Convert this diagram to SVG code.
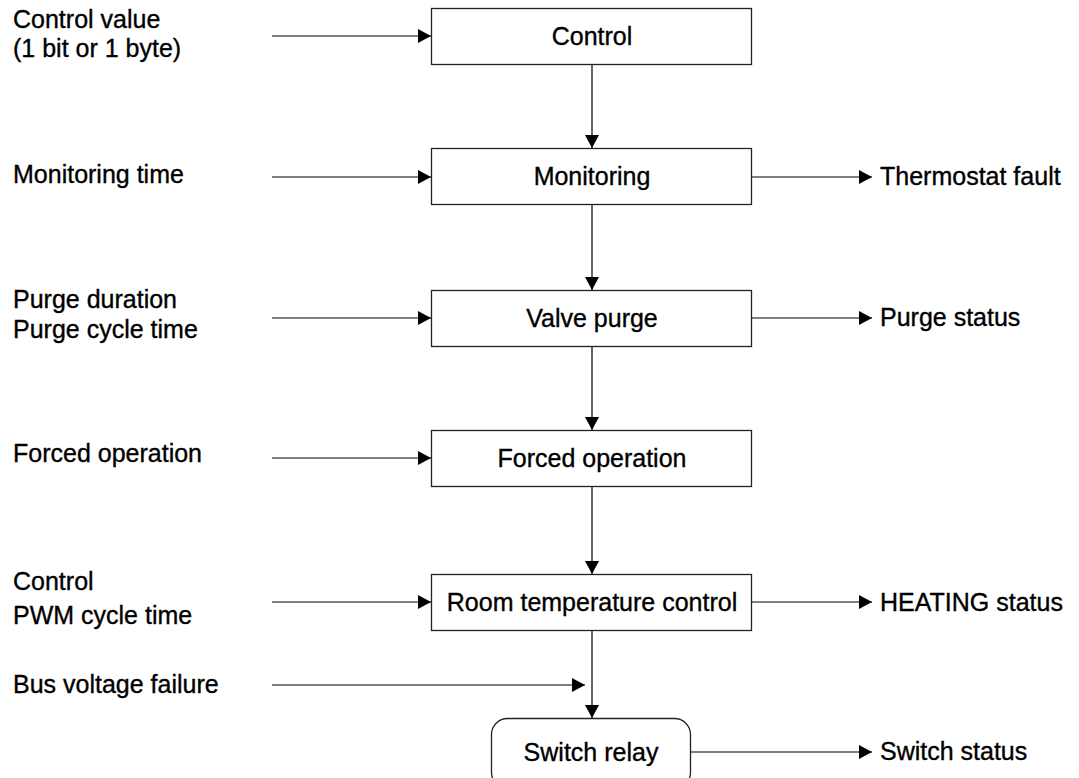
<svg xmlns="http://www.w3.org/2000/svg" width="1079" height="778" viewBox="0 0 1079 778">
<defs>
<marker id="ah" markerUnits="userSpaceOnUse" markerWidth="14" markerHeight="16" viewBox="0 0 14 16" refX="13" refY="8" orient="auto">
<path d="M0,1 L13,8 L0,15 Z" fill="#000"/>
</marker>
<style>
.box{fill:#fff;stroke:#222;stroke-width:1.3}
.t{font-family:"Liberation Sans",Arial,sans-serif;font-size:25px;fill:#000;stroke:#000;stroke-width:0.35}
.c{text-anchor:middle}
.ln{stroke:#000;stroke-width:1.2;fill:none;marker-end:url(#ah)}
</style>
</defs>
<rect width="1079" height="778" fill="#fff"/>
<g id="connectors">
<line class="ln" x1="272" y1="36" x2="431" y2="36"/>
<line class="ln" x1="272" y1="177" x2="431" y2="177"/>
<line class="ln" x1="272" y1="318" x2="431" y2="318"/>
<line class="ln" x1="272" y1="458" x2="431" y2="458"/>
<line class="ln" x1="272" y1="602" x2="431" y2="602"/>
<line class="ln" x1="272" y1="685" x2="585" y2="685"/>
<line class="ln" x1="592" y1="64" x2="592" y2="148"/>
<line class="ln" x1="592" y1="204" x2="592" y2="290"/>
<line class="ln" x1="592" y1="346" x2="592" y2="430"/>
<line class="ln" x1="592" y1="486" x2="592" y2="574"/>
<line class="ln" x1="592" y1="630" x2="592" y2="718"/>
<line class="ln" x1="752" y1="177" x2="872" y2="177"/>
<line class="ln" x1="752" y1="318" x2="872" y2="318"/>
<line class="ln" x1="752" y1="602" x2="872" y2="602"/>
<line class="ln" x1="691" y1="752" x2="872" y2="752"/>
</g>
<g id="node-control"><rect class="box" x="431.5" y="8.5" width="320" height="56"/><text class="t c" x="592" y="45">Control</text></g>
<g id="node-monitoring"><rect class="box" x="431.5" y="148.5" width="320" height="56"/><text class="t c" x="592" y="185">Monitoring</text></g>
<g id="node-valve-purge"><rect class="box" x="431.5" y="290.5" width="320" height="56"/><text class="t c" x="592" y="327">Valve purge</text></g>
<g id="node-forced-operation"><rect class="box" x="431.5" y="430.5" width="320" height="56"/><text class="t c" x="592" y="467">Forced operation</text></g>
<g id="node-room-temperature-control"><rect class="box" x="431.5" y="574.5" width="320" height="56"/><text class="t c" x="592" y="611">Room temperature control</text></g>
<g id="node-switch-relay"><rect class="box" x="491.5" y="718.5" width="199" height="70" rx="16"/><text class="t c" x="591" y="761">Switch relay</text></g>
<g id="inputs">
<text class="t" x="13" y="28">Control value</text>
<text class="t" x="13" y="57">(1 bit or 1 byte)</text>
<text class="t" x="13" y="183">Monitoring time</text>
<text class="t" x="13" y="308">Purge duration</text>
<text class="t" x="13" y="338">Purge cycle time</text>
<text class="t" x="13" y="462">Forced operation</text>
<text class="t" x="13" y="590">Control</text>
<text class="t" x="13" y="624">PWM cycle time</text>
<text class="t" x="13" y="693">Bus voltage failure</text>
</g>
<g id="outputs">
<text class="t" x="880" y="185">Thermostat fault</text>
<text class="t" x="880" y="326">Purge status</text>
<text class="t" x="880" y="611">HEATING status</text>
<text class="t" x="880" y="760">Switch status</text>
</g>
</svg>
